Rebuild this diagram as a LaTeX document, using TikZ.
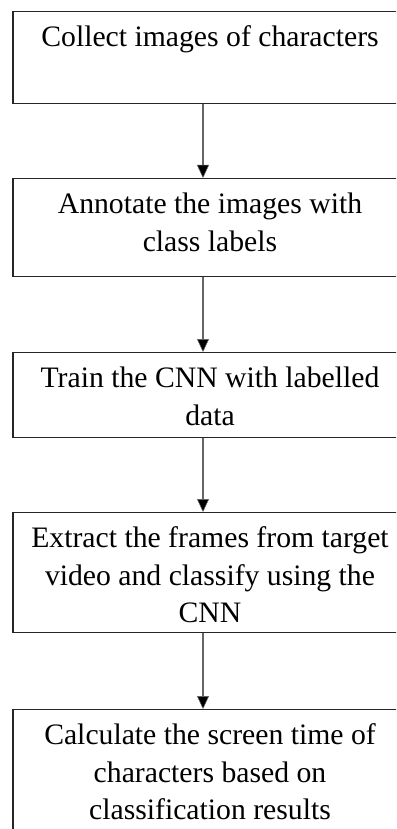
\documentclass[tikz,border=0pt]{standalone}
\usepackage{fontspec}
\setmainfont{Liberation Serif}
\usetikzlibrary{arrows.meta}

% A stage of the flow: a top-aligned block of centred text inside a fixed-size frame
\newcommand{\stagetext}[2]{%
  \parbox[c][#1][t]{394pt}{\centering\vspace*{9pt}\strut #2\par}}

\tikzset{
  stagebox/.style={draw=black!85, line width=1.4pt, inner sep=0pt, anchor=north,
    font=\fontsize{29.7}{37.5}\selectfont},
  flowarrow/.style={draw=black!60, line width=2pt,
    -{Triangle[length=13pt,width=12pt,fill=black,line width=0.5pt]}}
}

\begin{document}
\begin{tikzpicture}[x=1pt,y=1pt]
  \useasboundingbox (0,0) rectangle (396,-829);
  \clip (0,0) rectangle (396,-829);
  \fill[white] (0,0) rectangle (396,-829);

  \node[stagebox] (s1) at (210,-11)  {\stagetext{92pt}{Collect images of characters}};
  \node[stagebox] (s2) at (210,-178) {\stagetext{98pt}{Annotate the images with\\class labels}};
  \node[stagebox] (s3) at (210,-352) {\stagetext{85pt}{Train the CNN with labelled\\data}};
  \node[stagebox] (s4) at (210,-512) {\stagetext{120pt}{Extract the frames from target\\video and classify using the\\CNN}};
  \node[stagebox] (s5) at (210,-709) {\stagetext{150pt}{Calculate the screen time of\\characters based on\\classification results}};

  \draw[flowarrow] ([xshift=-7pt]s1.south) -- ([xshift=-7pt]s2.north);
  \draw[flowarrow] ([xshift=-7pt]s2.south) -- ([xshift=-7pt]s3.north);
  \draw[flowarrow] ([xshift=-7pt]s3.south) -- ([xshift=-7pt]s4.north);
  \draw[flowarrow] ([xshift=-7pt]s4.south) -- ([xshift=-7pt]s5.north);
\end{tikzpicture}
\end{document}
